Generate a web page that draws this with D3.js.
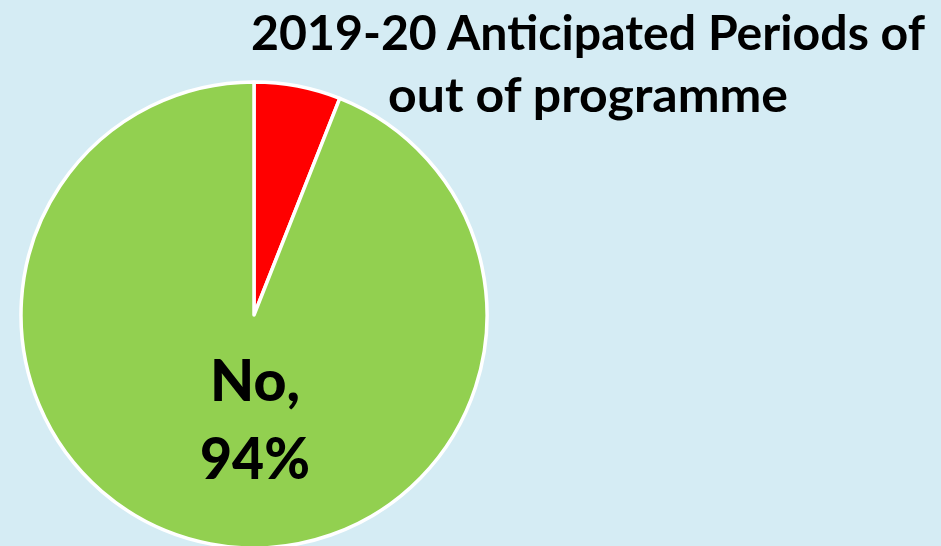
<!DOCTYPE html>
<html><head><meta charset="utf-8">
<script src="https://cdn.jsdelivr.net/npm/d3@7"></script>
<style>html,body{margin:0;padding:0;background:#d5ecf4;overflow:hidden}</style>
</head><body>
<svg id="chart" width="941" height="546"></svg>
<script>
const categories = ["Yes", "No"];
const values = [6, 94];
const colors = ["#ff0000", "#92d050"];
const titleLines = ["2019-20 Anticipated Periods of", "out of programme"];

const svg = d3.select("#chart");
svg.append("rect").attr("width", 941).attr("height", 546).attr("fill", "#d5ecf4");

const cx = 254, cy = 315, r = 233;
const pie = d3.pie().sort(null).value(d => d.v);
const arcs = pie(categories.map((c, i) => ({c, v: values[i], col: colors[i]})));
const arc = d3.arc().innerRadius(0).outerRadius(r);
const g = svg.append("g").attr("transform", `translate(${cx},${cy})`);
g.selectAll("path").data(arcs).join("path")
  .attr("d", arc).attr("fill", d => d.data.col)
  .attr("stroke", "#fff").attr("stroke-width", 3.5).attr("stroke-linejoin", "round");

const font = "Lato, 'Open Sans', sans-serif";
const noArc = arcs[1];
g.append("text").attr("x", 1).attr("y", 86).attr("text-anchor", "middle")
  .attr("font-family", font).attr("font-weight", 900).attr("font-size", 57).attr("fill", "#000")
  .attr("textLength", 90).attr("lengthAdjust", "spacingAndGlyphs")
  .text(noArc.data.c + ",");
g.append("text").attr("x", 1).attr("y", 164).attr("text-anchor", "middle")
  .attr("font-family", font).attr("font-weight", 900).attr("font-size", 57).attr("fill", "#000")
  .attr("textLength", 110).attr("lengthAdjust", "spacingAndGlyphs")
  .text(noArc.data.v + "%");

const widths = [674, 400];
const ys = [50, 112];
titleLines.forEach((t, i) => {
  svg.append("text").attr("x", 588).attr("y", ys[i]).attr("text-anchor", "middle")
    .attr("font-family", font).attr("font-weight", 700).attr("font-size", 48).attr("fill", "#000")
    .attr("textLength", widths[i]).attr("lengthAdjust", "spacingAndGlyphs")
    .text(t);
});
</script>
</body></html>
